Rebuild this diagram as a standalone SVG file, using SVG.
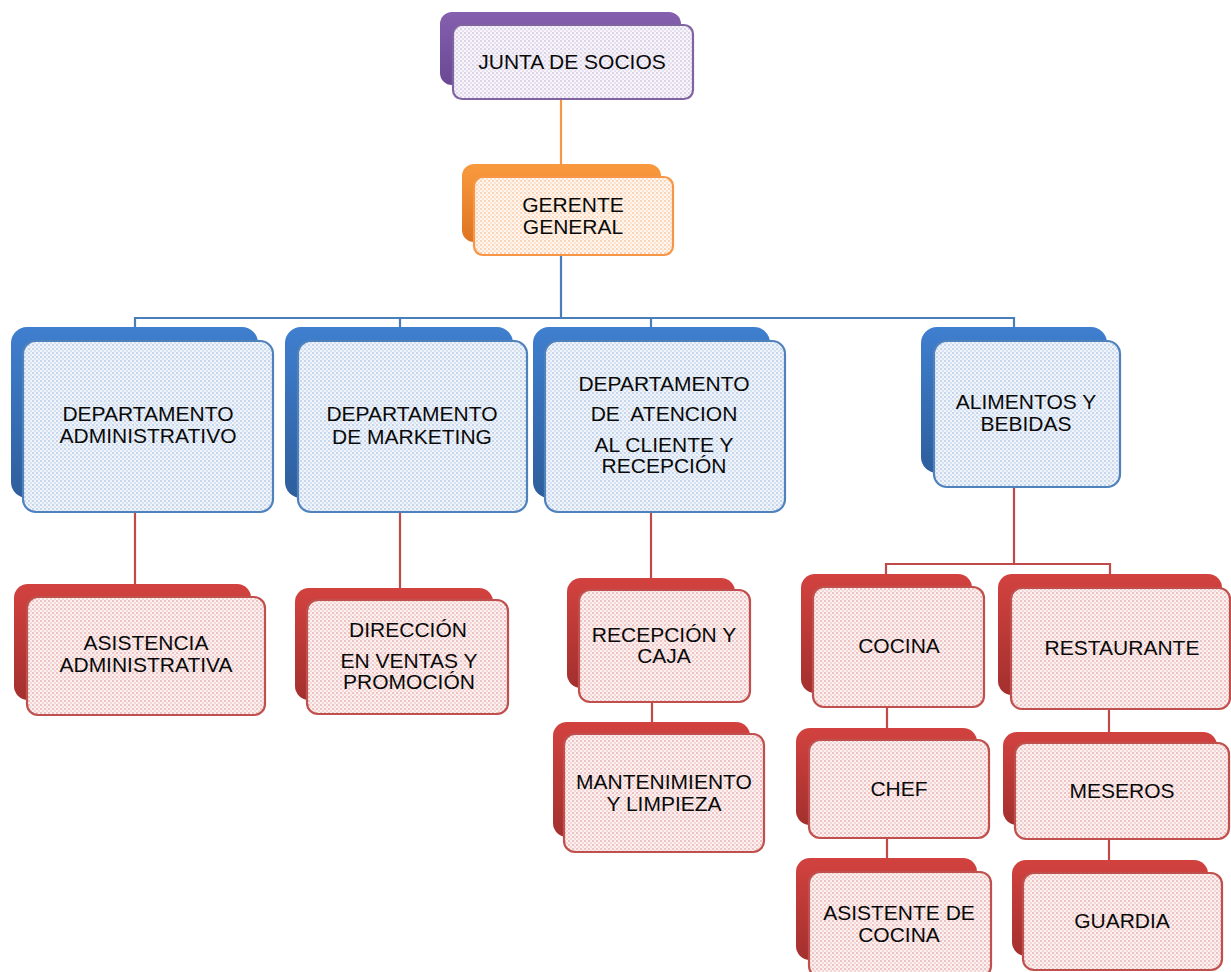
<svg xmlns="http://www.w3.org/2000/svg" width="1231" height="972" viewBox="0 0 1231 972">
<style>
text{font-family:"Liberation Sans",Arial,sans-serif;font-size:21px;fill:#0A0A0A;text-anchor:middle}
.conn{fill:none;stroke-width:2.2}
.cb{stroke:#4A7EBB}.cr{stroke:#BE4B4A}.co{stroke:#F79646}
.front{stroke-width:2.2}
.fp{fill:url(#pp);stroke:#8064A2}
.fo{fill:url(#po);stroke:#F79646}
.fb{fill:url(#pb);stroke:#4F81BD}
.fr{fill:url(#pr);stroke:#C0504D}
.bp{fill:url(#gp)}.bo{fill:url(#go)}.bb{fill:url(#gb)}.br{fill:url(#gr)}
</style>
<defs>
<pattern id="pp" width="4" height="4" patternUnits="userSpaceOnUse"><rect width="4" height="4" fill="#F7F5FA"/><rect width="2" height="2" fill="#DCD4E8"/><rect x="2" y="2" width="2" height="2" fill="#E6E0EF"/></pattern>
<pattern id="po" width="4" height="4" patternUnits="userSpaceOnUse"><rect width="4" height="4" fill="#FEF6EF"/><rect width="2" height="2" fill="#F9D6B9"/><rect x="2" y="2" width="2" height="2" fill="#FBE3CF"/></pattern>
<pattern id="pb" width="4" height="4" patternUnits="userSpaceOnUse"><rect width="4" height="4" fill="#F1F5FB"/><rect width="2" height="2" fill="#C6D6EB"/><rect x="2" y="2" width="2" height="2" fill="#D8E3F2"/></pattern>
<pattern id="pr" width="4" height="4" patternUnits="userSpaceOnUse"><rect width="4" height="4" fill="#FBF1F1"/><rect width="2" height="2" fill="#EDC3C3"/><rect x="2" y="2" width="2" height="2" fill="#F3D6D6"/></pattern>
<linearGradient id="gp" x1="0" y1="0" x2="0" y2="1"><stop offset="0" stop-color="#8460AE"/><stop offset="1" stop-color="#6A4893"/></linearGradient>
<linearGradient id="go" x1="0" y1="0" x2="0" y2="1"><stop offset="0" stop-color="#F99A3E"/><stop offset="1" stop-color="#DE7420"/></linearGradient>
<linearGradient id="gb" x1="0" y1="0" x2="0" y2="1"><stop offset="0" stop-color="#3F7FCF"/><stop offset="1" stop-color="#2E5E9C"/></linearGradient>
<linearGradient id="gr" x1="0" y1="0" x2="0" y2="1"><stop offset="0" stop-color="#D2423F"/><stop offset="1" stop-color="#A3302E"/></linearGradient>
</defs>

<g id="connectors">
<path class="conn co" d="M561 99 V164"/>
<path class="conn cb" d="M561 255 V318 M135 327 V318 H1014 V327 M400 318 V327 M651 318 V327"/>
<path class="conn cr" d="M135 512 V584 M400 512 V588 M651 512 V578 M652 702 V722"/>
<path class="conn cr" d="M1014 487 V564 M886 574 V564 H1110 V574 M887 707 V728 M887 838 V858 M1109 709 V732 M1109 839 V860"/>
</g>

<g id="junta">
<rect class="bp" x="440" y="12" width="241" height="73" rx="12"/>
<rect class="front fp" x="453" y="25" width="240" height="74" rx="9"/>
<text x="572" y="69">JUNTA DE SOCIOS</text>
</g>

<g id="gerente">
<rect class="bo" x="462" y="164" width="199" height="78" rx="12"/>
<rect class="front fo" x="474" y="177" width="199" height="78" rx="9"/>
<text x="573" y="212">GERENTE</text>
<text x="573" y="234">GENERAL</text>
</g>

<g id="dep-admin">
<rect class="bb" x="11" y="327" width="247" height="171" rx="16"/>
<rect class="front fb" x="23" y="341" width="250" height="171" rx="13"/>
<text x="148" y="421">DEPARTAMENTO</text>
<text x="148" y="443">ADMINISTRATIVO</text>
</g>

<g id="dep-marketing">
<rect class="bb" x="285" y="327" width="228" height="171" rx="16"/>
<rect class="front fb" x="298" y="341" width="229" height="171" rx="13"/>
<text x="412" y="421">DEPARTAMENTO</text>
<text x="412" y="444">DE MARKETING</text>
</g>

<g id="dep-atencion">
<rect class="bb" x="533" y="327" width="237" height="171" rx="16"/>
<rect class="front fb" x="545" y="341" width="240" height="171" rx="13"/>
<text x="664" y="391">DEPARTAMENTO</text>
<text x="664" y="421" xml:space="preserve">DE  ATENCION</text>
<text x="664" y="452">AL CLIENTE Y</text>
<text x="664" y="473">RECEPCIÓN</text>
</g>

<g id="alimentos">
<rect class="bb" x="921" y="327" width="186" height="146" rx="16"/>
<rect class="front fb" x="934" y="341" width="186" height="146" rx="13"/>
<text x="1026" y="409">ALIMENTOS Y</text>
<text x="1026" y="431">BEBIDAS</text>
</g>

<g id="asistencia-admin">
<rect class="br" x="14" y="584" width="237" height="116" rx="14"/>
<rect class="front fr" x="27" y="597" width="238" height="118" rx="11"/>
<text x="146" y="650">ASISTENCIA</text>
<text x="146" y="672">ADMINISTRATIVA</text>
</g>

<g id="direccion">
<rect class="br" x="295" y="588" width="198" height="112" rx="14"/>
<rect class="front fr" x="307" y="600" width="201" height="114" rx="11"/>
<text x="408" y="637">DIRECCIÓN</text>
<text x="409" y="668">EN VENTAS Y</text>
<text x="409" y="689">PROMOCIÓN</text>
</g>

<g id="recepcion-caja">
<rect class="br" x="567" y="578" width="168" height="110" rx="14"/>
<rect class="front fr" x="579" y="590" width="171" height="112" rx="11"/>
<text x="664" y="642">RECEPCIÓN Y</text>
<text x="664" y="663">CAJA</text>
</g>

<g id="mantenimiento">
<rect class="br" x="553" y="722" width="197" height="115" rx="14"/>
<rect class="front fr" x="564" y="734" width="200" height="118" rx="11"/>
<text x="664" y="789">MANTENIMIENTO</text>
<text x="664" y="811">Y LIMPIEZA</text>
</g>

<g id="cocina">
<rect class="br" x="801" y="574" width="171" height="119" rx="14"/>
<rect class="front fr" x="813" y="587" width="171" height="120" rx="11"/>
<text x="899" y="653">COCINA</text>
</g>

<g id="restaurante">
<rect class="br" x="998" y="574" width="224" height="121" rx="14"/>
<rect class="front fr" x="1011" y="588" width="219" height="121" rx="11"/>
<text x="1122" y="655">RESTAURANTE</text>
</g>

<g id="chef">
<rect class="br" x="796" y="728" width="181" height="97" rx="14"/>
<rect class="front fr" x="809" y="740" width="180" height="98" rx="11"/>
<text x="899" y="796">CHEF</text>
</g>

<g id="meseros">
<rect class="br" x="1003" y="732" width="214" height="93" rx="14"/>
<rect class="front fr" x="1015" y="743" width="214" height="96" rx="11"/>
<text x="1122" y="798">MESEROS</text>
</g>

<g id="asistente-cocina">
<rect class="br" x="796" y="858" width="181" height="102" rx="14"/>
<rect class="front fr" x="809" y="872" width="182" height="105" rx="11"/>
<text x="899" y="920">ASISTENTE DE</text>
<text x="899" y="942">COCINA</text>
</g>

<g id="guardia">
<rect class="br" x="1012" y="860" width="196" height="96" rx="14"/>
<rect class="front fr" x="1023" y="873" width="199" height="97" rx="11"/>
<text x="1122" y="928">GUARDIA</text>
</g>
</svg>
